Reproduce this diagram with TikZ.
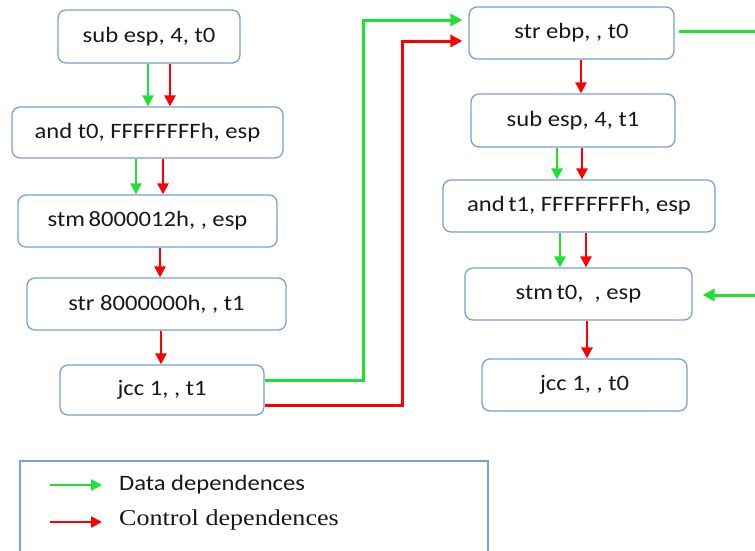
\documentclass[tikz,border=0pt]{standalone}
\usepackage{fontspec}
\setmainfont{Carlito}
\newfontfamily\boxfont[FakeStretch=1.12]{Carlito}
\newfontfamily\legserif[FakeStretch=1.15]{Liberation Serif}
\usetikzlibrary{arrows.meta}
\definecolor{dgreen}{RGB}{30,225,50}
\definecolor{cred}{RGB}{255,0,0}
\definecolor{bblue}{RGB}{120,160,210}
\tikzset{
  instr/.style={draw=bblue, line width=1.3pt, rounded corners=8pt, fill=white,
    inner sep=0pt, font=\boxfont\fontsize{22}{26}\selectfont, text=black!90},
  data/.style={draw=dgreen, line width=2.4pt, -{Triangle[length=11pt,width=11pt]}},
  ctrl/.style={draw=cred, line width=2.4pt, -{Triangle[length=11pt,width=11pt]}},
  dataL/.style={draw=dgreen, line width=3pt},
  ctrlL/.style={draw=cred, line width=3pt},
}
\begin{document}
\begin{tikzpicture}[x=1pt,y=-1pt]
\clip (0,0) rectangle (755,550);
\fill[white] (0,0) rectangle (755,550);
% left column
\node[instr, minimum width=182pt, minimum height=53pt] (b1) at (149,36.5) {sub esp, 4, t0};
\node[instr, minimum width=271pt, minimum height=51pt] (b2) at (147.5,132.5) {and t0, FFFFFFFFh, esp};
\node[instr, minimum width=259pt, minimum height=52pt] (b3) at (147.5,221) {stm\,8000012h, , esp};
\node[instr, minimum width=259pt, minimum height=52pt] (b4) at (156.5,304) {str 8000000h, , t1};
\node[instr, minimum width=204pt, minimum height=50pt] (b5) at (162,390) {jcc 1, , t1};
% right column
\node[instr, minimum width=205pt, minimum height=52pt] (b6) at (571.5,33) {str ebp, , t0};
\node[instr, minimum width=204pt, minimum height=53pt] (b7) at (573,120.5) {sub esp, 4, t1};
\node[instr, minimum width=272pt, minimum height=52pt] (b8) at (579,206) {and\,t1, FFFFFFFFh, esp};
\node[instr, minimum width=227pt, minimum height=52pt] (b9) at (578.5,294) {stm\,t0, \ , esp};
\node[instr, minimum width=205pt, minimum height=52pt] (b10) at (584.5,385) {jcc 1, , t0};
% left arrows
\draw[data] ([xshift=-1pt]b1.south) -- ([xshift=-1pt]b1.south |- b2.north);
\draw[ctrl] ([xshift=21pt]b1.south) -- ([xshift=21pt]b1.south |- b2.north);
\draw[data] ([xshift=-11.5pt]b2.south) -- ([xshift=-11.5pt]b2.south |- b3.north);
\draw[ctrl] ([xshift=15.5pt]b2.south) -- ([xshift=15.5pt]b2.south |- b3.north);
\draw[ctrl] ([xshift=12.5pt]b3.south) -- ([xshift=12.5pt]b3.south |- b4.north);
\draw[ctrl] ([xshift=4.5pt]b4.south) -- ([xshift=4.5pt]b4.south |- b5.north);
% right arrows
\draw[ctrl] ([xshift=9.5pt]b6.south) -- ([xshift=9.5pt]b6.south |- b7.north);
\draw[data] ([xshift=-16pt]b7.south) -- ([xshift=-16pt]b7.south |- b8.north);
\draw[ctrl] ([xshift=9pt]b7.south) -- ([xshift=9pt]b7.south |- b8.north);
\draw[data] ([xshift=-19pt]b8.south) -- ([xshift=-19pt]b8.south |- b9.north);
\draw[ctrl] ([xshift=7pt]b8.south) -- ([xshift=7pt]b8.south |- b9.north);
\draw[ctrl] ([xshift=8.5pt]b9.south) -- ([xshift=8.5pt]b9.south |- b10.north);
% long connectors
\coordinate (gturn) at (363,20);
\coordinate (rturn) at (402,41);
\draw[dataL, -{Triangle[length=12pt,width=12pt]}, shorten >=6pt]
  ([yshift=10pt]b5.east) -| (gturn) -- ([yshift=13pt]b6.west);
\draw[ctrlL, -{Triangle[length=12pt,width=12pt]}, shorten >=6pt]
  ([yshift=-15pt]b5.east) -| (rturn) -- ([yshift=-8pt]b6.west);
\coordinate (gout) at (760,31);
\draw[dataL, shorten <=4pt] ([yshift=2pt]b6.east) -- (gout);
\coordinate (gin) at (760,295);
\draw[dataL, -{Triangle[length=12pt,width=12pt]}, shorten >=10pt] (gin) -- ([yshift=-1pt]b9.east);
% legend
\draw[draw=bblue, line width=1.3pt] (20,461) rectangle (488,580);
\coordinate (lg1) at (50,485);
\coordinate (lg2) at (102,485);
\coordinate (lr1) at (50,522);
\coordinate (lr2) at (102,522);
\draw[data] (lg1) -- (lg2);
\draw[ctrl] (lr1) -- (lr2);
\node[anchor=west, inner sep=0pt, font=\boxfont\fontsize{22}{26}\selectfont, text=black!90] (lt1) at (119,485) {Data dependences};
\node[anchor=west, inner sep=0pt, font=\legserif\fontsize{22.7}{26}\selectfont, text=black!90] (lt2) at (119,520) {Control dependences};
\end{tikzpicture}
\end{document}
